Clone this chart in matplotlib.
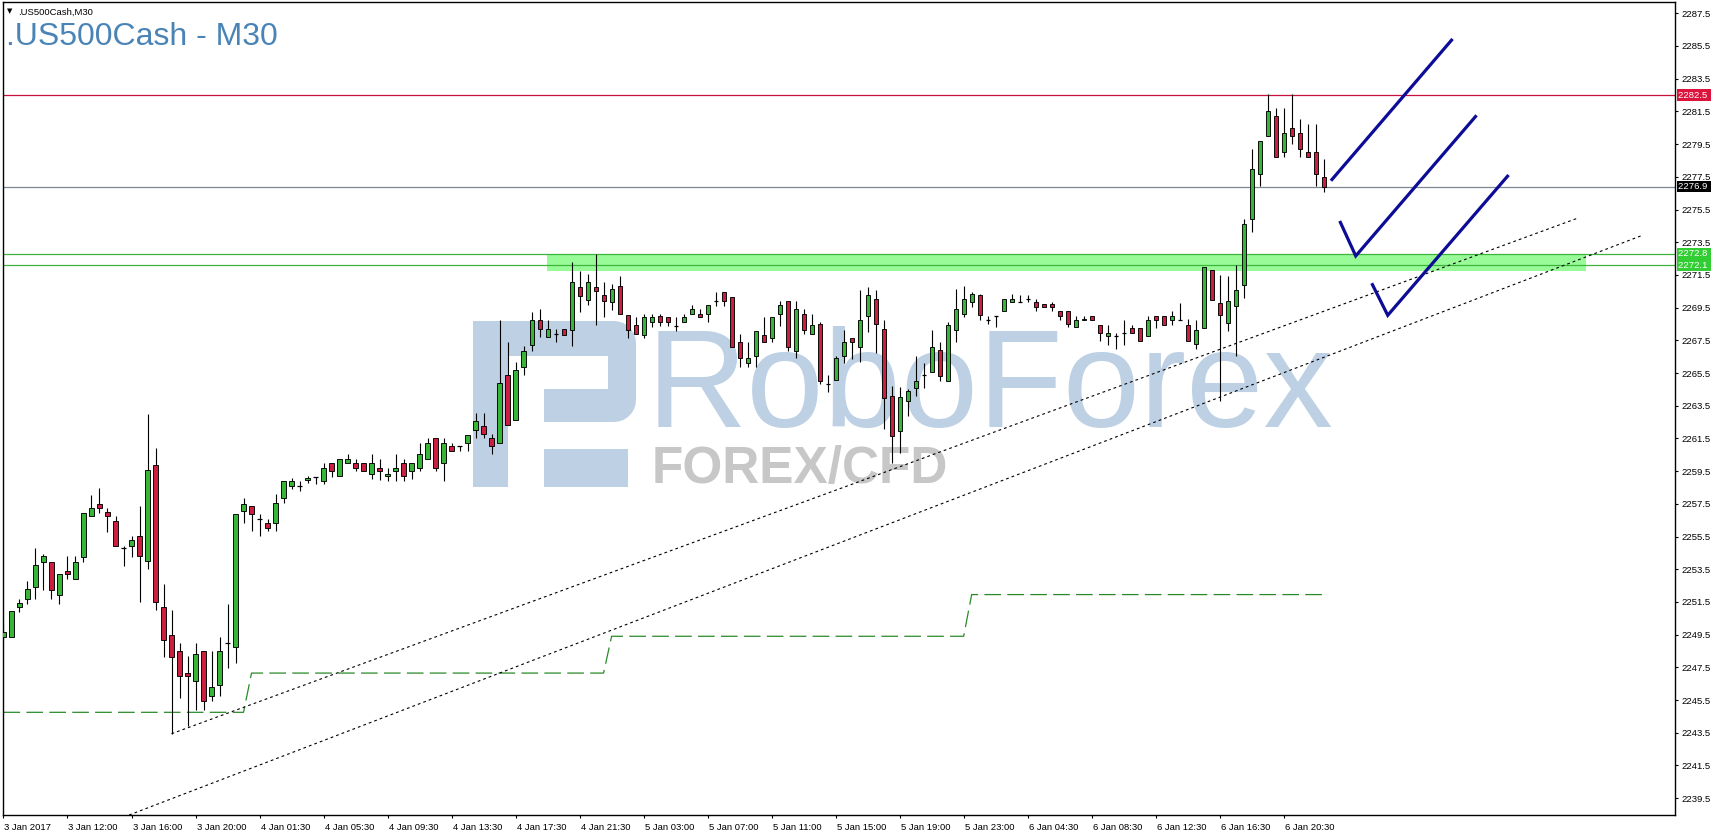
import numpy as np
import matplotlib
matplotlib.use("Agg")
import matplotlib.pyplot as plt
from matplotlib import font_manager
from matplotlib.patches import Polygon
from matplotlib.transforms import blended_transform_factory, ScaledTranslation

# ---- data (M30 bars, index 0 = first bar on screen) ----
opens = [2249.36, 2249.36, 2251.19, 2251.66, 2252.41, 2253.94, 2253.96, 2251.94, 2253.41, 2252.92,
         2254.25, 2256.78, 2257.51, 2256.98, 2256.47, 2254.78, 2254.94, 2255.51, 2254.02, 2259.90,
         2251.21, 2249.50, 2248.48, 2247.17, 2246.68, 2248.48, 2245.76, 2246.44, 2249.01, 2248.74,
         2257.08, 2257.39, 2256.59, 2256.35, 2256.35, 2257.88, 2258.61, 2258.61, 2258.95, 2259.16,
         2258.90, 2259.98, 2259.18, 2259.98, 2259.98, 2259.98, 2259.30, 2259.67, 2259.18, 2259.49,
         2259.98, 2259.49, 2259.67, 2260.22, 2261.53, 2259.98, 2261.02, 2261.02, 2261.22, 2262.02,
         2262.24, 2261.53, 2261.22, 2265.36, 2262.61, 2265.87, 2267.20, 2268.75, 2267.68, 2267.89,
         2268.19, 2268.15, 2270.73, 2269.98, 2270.73, 2270.25, 2269.82, 2270.80, 2269.04, 2268.41,
         2267.82, 2268.59, 2269.00, 2268.90, 2268.39, 2268.59, 2269.08, 2269.08, 2269.08, 2269.92,
         2270.43, 2270.12, 2267.37, 2266.09, 2266.55, 2267.84, 2267.62, 2269.08, 2269.92, 2266.86,
         2269.08, 2267.88, 2268.47, 2264.85, 2265.07, 2266.56, 2267.62, 2267.07, 2269.00, 2270.00,
         2268.17, 2264.09, 2261.93, 2263.80, 2264.56, 2265.37, 2265.54, 2266.90, 2265.03, 2268.11,
         2269.09, 2269.82, 2270.27, 2268.76, 2269.00, 2269.31, 2269.82, 2269.82, 2270.00, 2269.82,
         2269.70, 2269.70, 2269.31, 2269.31, 2268.29, 2268.76, 2269.00, 2268.42, 2267.75, 2267.75,
         2267.95, 2268.26, 2268.26, 2267.75, 2268.97, 2268.97, 2268.77, 2268.77, 2268.45, 2267.25,
         2268.25, 2271.80, 2269.78, 2268.55, 2269.57, 2270.86, 2274.92, 2277.67, 2279.99, 2281.21,
         2279.01, 2280.48, 2280.18, 2279.01, 2279.01, 2277.48]
highs = [2250.21, 2250.92, 2251.70, 2252.76, 2254.78, 2254.45, 2253.96, 2253.23, 2254.29, 2254.29,
         2256.96, 2258.02, 2258.49, 2257.26, 2256.78, 2254.94, 2255.51, 2257.39, 2262.97, 2260.93,
         2252.57, 2251.02, 2249.01, 2248.17, 2249.01, 2248.48, 2248.48, 2249.33, 2251.35, 2256.90,
         2257.84, 2257.39, 2256.90, 2256.59, 2258.12, 2258.92, 2259.10, 2258.90, 2259.20, 2259.16,
         2259.98, 2259.98, 2260.22, 2260.55, 2260.22, 2259.98, 2260.55, 2260.22, 2259.67, 2260.55,
         2260.22, 2259.98, 2261.22, 2261.53, 2261.53, 2261.53, 2261.22, 2261.02, 2261.73, 2263.06,
         2263.06, 2261.77, 2268.75, 2267.38, 2266.16, 2267.18, 2269.23, 2269.42, 2268.75, 2268.19,
         2268.19, 2272.26, 2271.71, 2271.55, 2272.77, 2271.04, 2270.94, 2271.41, 2269.04, 2268.90,
         2269.10, 2269.10, 2269.10, 2268.90, 2268.90, 2269.10, 2269.65, 2269.39, 2269.63, 2270.43,
         2270.43, 2270.12, 2267.88, 2267.37, 2268.10, 2268.90, 2268.90, 2269.92, 2269.92, 2269.92,
         2269.39, 2269.08, 2268.59, 2265.35, 2266.56, 2268.13, 2267.62, 2270.57, 2270.74, 2270.57,
         2268.72, 2264.68, 2264.66, 2264.52, 2266.56, 2266.09, 2268.13, 2267.41, 2268.60, 2270.63,
         2270.80, 2270.43, 2270.33, 2269.00, 2269.00, 2270.00, 2270.33, 2270.27, 2270.27, 2270.00,
         2269.70, 2269.82, 2269.31, 2269.31, 2269.00, 2269.00, 2269.00, 2268.42, 2268.42, 2267.95,
         2268.77, 2268.42, 2268.26, 2268.97, 2268.97, 2268.97, 2269.32, 2269.79, 2268.80, 2268.76,
         2271.98, 2271.80, 2271.51, 2271.41, 2272.12, 2274.94, 2279.22, 2279.71, 2282.56, 2281.73,
         2281.73, 2282.56, 2281.03, 2280.75, 2280.75, 2278.59]
lows = [2249.19, 2249.36, 2250.88, 2251.39, 2251.66, 2252.21, 2251.66, 2251.39, 2252.88, 2252.92,
        2253.94, 2256.78, 2256.94, 2255.78, 2254.94, 2253.70, 2254.25, 2251.49, 2253.51, 2251.02,
        2248.13, 2243.44, 2245.62, 2243.93, 2244.91, 2244.91, 2245.46, 2245.76, 2247.46, 2247.76,
        2256.33, 2255.84, 2255.53, 2255.84, 2255.84, 2257.57, 2258.43, 2258.30, 2258.80, 2258.70,
        2258.70, 2259.16, 2259.18, 2259.98, 2259.49, 2259.49, 2259.02, 2258.95, 2258.90, 2258.90,
        2258.90, 2259.02, 2259.49, 2260.22, 2259.49, 2258.90, 2260.71, 2260.71, 2260.71, 2261.53,
        2261.53, 2260.55, 2261.22, 2262.32, 2262.61, 2265.38, 2266.87, 2267.68, 2267.68, 2267.38,
        2267.84, 2267.17, 2269.21, 2269.67, 2268.43, 2268.90, 2269.37, 2269.08, 2267.62, 2267.88,
        2267.62, 2268.29, 2268.39, 2268.39, 2268.08, 2268.59, 2269.08, 2268.90, 2268.59, 2269.61,
        2269.61, 2267.07, 2265.84, 2265.84, 2265.84, 2267.37, 2267.37, 2268.39, 2266.86, 2266.39,
        2267.88, 2267.88, 2264.82, 2264.36, 2265.07, 2266.09, 2266.35, 2266.15, 2267.98, 2266.72,
        2262.07, 2260.00, 2260.60, 2262.89, 2264.11, 2264.56, 2265.54, 2265.03, 2265.03, 2267.37,
        2268.90, 2269.51, 2268.76, 2268.49, 2268.29, 2269.31, 2269.82, 2269.82, 2269.82, 2269.31,
        2269.51, 2269.31, 2268.76, 2268.29, 2268.29, 2268.76, 2268.76, 2267.44, 2267.24, 2266.97,
        2267.24, 2267.95, 2267.44, 2267.75, 2268.26, 2268.42, 2268.42, 2268.77, 2267.43, 2266.96,
        2268.25, 2269.98, 2263.76, 2268.04, 2266.52, 2270.08, 2274.12, 2276.91, 2279.99, 2278.71,
        2278.71, 2279.52, 2278.71, 2278.71, 2276.91, 2276.55]
closes = [2249.66, 2250.92, 2251.41, 2252.31, 2253.74, 2254.29, 2252.25, 2253.23, 2253.23, 2253.96,
          2256.96, 2257.26, 2257.26, 2256.78, 2254.94, 2254.78, 2255.27, 2254.33, 2259.59, 2251.49,
          2249.19, 2248.13, 2246.99, 2246.99, 2248.29, 2245.46, 2246.27, 2248.48, 2249.01, 2256.90,
          2257.51, 2256.90, 2256.59, 2256.04, 2257.57, 2258.92, 2258.92, 2258.61, 2259.10, 2259.16,
          2259.67, 2259.49, 2260.22, 2260.22, 2259.67, 2259.49, 2259.98, 2259.49, 2259.30, 2259.67,
          2259.18, 2259.98, 2260.55, 2261.22, 2259.67, 2261.22, 2260.71, 2261.02, 2261.73, 2262.55,
          2261.77, 2261.06, 2264.87, 2262.32, 2265.67, 2266.87, 2268.75, 2268.19, 2268.19, 2267.89,
          2267.84, 2271.04, 2270.23, 2271.04, 2270.53, 2269.92, 2270.61, 2269.08, 2268.13, 2267.88,
          2268.90, 2268.90, 2268.59, 2268.59, 2268.39, 2268.90, 2269.39, 2268.90, 2269.63, 2269.92,
          2269.92, 2267.07, 2266.39, 2266.39, 2268.10, 2267.37, 2268.90, 2269.63, 2267.07, 2269.39,
          2268.13, 2268.41, 2265.03, 2264.85, 2266.39, 2267.37, 2267.37, 2268.72, 2270.27, 2268.47,
          2263.95, 2261.62, 2264.05, 2264.37, 2265.03, 2265.37, 2267.07, 2265.33, 2268.43, 2269.39,
          2270.02, 2270.33, 2269.05, 2268.76, 2269.00, 2270.00, 2270.00, 2269.82, 2270.00, 2269.51,
          2269.51, 2269.51, 2269.00, 2268.47, 2268.76, 2268.80, 2268.76, 2267.95, 2267.95, 2267.75,
          2267.95, 2267.95, 2267.44, 2268.77, 2268.77, 2268.42, 2268.97, 2268.77, 2267.43, 2268.15,
          2271.98, 2269.98, 2269.02, 2269.92, 2270.59, 2274.63, 2277.99, 2279.71, 2281.52, 2278.71,
          2280.18, 2280.01, 2279.22, 2278.71, 2277.67, 2276.87]

time_labels = ["3 Jan 2017", "3 Jan 12:00", "3 Jan 16:00", "3 Jan 20:00", "4 Jan 01:30",
               "4 Jan 05:30", "4 Jan 09:30", "4 Jan 13:30", "4 Jan 17:30", "4 Jan 21:30",
               "5 Jan 03:00", "5 Jan 07:00", "5 Jan 11:00", "5 Jan 15:00", "5 Jan 19:00",
               "5 Jan 23:00", "6 Jan 04:30", "6 Jan 08:30", "6 Jan 12:30", "6 Jan 16:30",
               "6 Jan 20:30"]
label_every = 8

# horizontal levels
resistance = 2282.5
bid = 2276.9
zone_lines = [2272.8, 2272.1]
zone_box = (67.9, 197.8, 2271.75, 2272.8)   # bar from, bar to, price low, price high

# green dashed step indicator: first bar of each level and its value
step_starts = [0, 31, 76, 121]
step_levels = [2244.75, 2247.15, 2249.40, 2251.95]

# dotted trend lines (bar, price)
trend_a = ([21.0, 196.9], [2243.44, 2275.00])
trend_b = ([15.7, 204.6], [2238.47, 2273.88])

# hand drawn blue arrows (bar, price)
blue_marks = [
    ([165.9, 181.1], [2277.26, 2285.93]),
    ([167.0, 169.0, 184.1], [2274.80, 2272.66, 2281.26]),
    ([171.0, 173.0, 188.1], [2270.99, 2269.03, 2277.61]),
]

# ---------------------------------------------------------------------------
W, H = 1715, 836
AX_L, AX_R, AX_T, AX_B = 3, 1675, 2, 815

fig = plt.figure(figsize=(W / 100, H / 100), dpi=100)
fig.patch.set_facecolor("white")
ax = fig.add_axes([AX_L / W, 1 - AX_B / H, (AX_R - AX_L) / W, (AX_B - AX_T) / H])
ax.set_xlim(-0.06, 208.9)
ax.set_ylim(2238.47, 2288.19)

font = "Liberation Sans"
plt.rcParams["lines.scale_dashes"] = False


def px(x, y):
    return ((x - AX_L) / (AX_R - AX_L), (AX_B - y) / (AX_B - AX_T))


# watermark
wm_blue = "#BDD0E4"
logo_parts = [
    [(473, 321), (508, 321), (508, 487), (473, 487)],
    [(508, 321), (612, 321), (612, 356), (508, 356)],
    [(544, 389), (612, 389), (612, 422), (544, 422)],
    [(544, 449), (628, 449), (628, 487), (544, 487)],
]
arc_r = 22
right_side = [(608, 321)]
for a in np.linspace(90, 0, 8):
    right_side.append((636 - arc_r + arc_r * np.cos(np.radians(a)), 321 + arc_r - arc_r * np.sin(np.radians(a))))
for a in np.linspace(0, -90, 8):
    right_side.append((636 - arc_r + arc_r * np.cos(np.radians(a)), 422 - arc_r - arc_r * np.sin(np.radians(a))))
right_side.append((608, 422))
logo_parts.append(right_side)
for part in logo_parts:
    ax.add_patch(Polygon([px(*p) for p in part], closed=True, transform=ax.transAxes,
                         fc=wm_blue, ec="none", zorder=0.5))

ax.text(*px(647, 427), "RoboForex", transform=ax.transAxes, family=font, fontsize=100,
        color=wm_blue, va="baseline", ha="left", zorder=0.5)
names = {f.name for f in font_manager.fontManager.ttflist}
if "Liberation Sans Narrow" in names:
    sub = dict(family="Liberation Sans Narrow", fontsize=44)
else:
    sub = dict(family=font, fontsize=37)
ax.text(*px(652, 483), "FOREX/CFD", transform=ax.transAxes, color="#C7C7C7",
        weight="bold", va="baseline", ha="left", zorder=0.5, **sub)

# zone and levels
z0, z1, zlo, zhi = zone_box
ax.fill_between([z0, z1], zlo, zhi, color="#98FB98", lw=0, zorder=1)
for lv in zone_lines:
    ax.axhline(lv, color="#3DB53D", lw=0.9, zorder=1.2)
ax.axhline(resistance, color="#C8103C", lw=0.9, zorder=1.2)
ax.axhline(bid, color="#7C8790", lw=0.9, zorder=1.2)

# step line
n = len(opens)
idx = np.arange(n)
step_vals = np.zeros(n)
for s, v in zip(step_starts, step_levels):
    step_vals[s:] = v
ax.plot(idx, step_vals, color="#2A8A2A", lw=0.9, dashes=(12, 4.5), zorder=1.3)

# trend lines
for xs, ys in (trend_a, trend_b):
    ax.plot(xs, ys, color="black", lw=0.8, dashes=(2, 2.2), zorder=1.4)

# candles
o = np.array(opens); h = np.array(highs); l = np.array(lows); c = np.array(closes)
ax.vlines(idx, l, h, color="black", lw=0.8, zorder=2)
up = c > o
dn = c < o
eq = c == o
bw = 0.52
ax.bar(idx[up], (c - o)[up], bottom=o[up], width=bw, color="#36B536", edgecolor="black",
       linewidth=0.65, zorder=3)
ax.bar(idx[dn], (o - c)[dn], bottom=c[dn], width=bw, color="#CC1E3E", edgecolor="black",
       linewidth=0.65, zorder=3)
ax.hlines(o[eq], idx[eq] - bw / 2, idx[eq] + bw / 2, color="black", lw=0.9, zorder=3)

# blue marks
for xs, ys in blue_marks:
    ax.plot(xs, ys, color="#0C0C96", lw=2.3, solid_capstyle="butt", solid_joinstyle="miter", zorder=4)

# axes styling
for sp in ax.spines.values():
    sp.set_color("black")
    sp.set_linewidth(1.0)
ax.yaxis.tick_right()
yt = np.arange(2239.5, 2288.0, 2.0)
ax.set_yticks(yt)
ax.set_yticklabels([f"{v:.1f}" for v in yt])
ax.set_xticks(np.arange(len(time_labels)) * label_every)
ax.set_xticklabels(time_labels)
ax.tick_params(axis="y", direction="out", length=2.5, width=0.8, pad=2.5, labelsize=6.8)
ax.tick_params(axis="x", direction="out", length=2.5, width=0.8, pad=3, labelsize=6.8)
for lb in ax.get_xticklabels():
    lb.set_horizontalalignment("left")
    lb.set_family(font)
    lb.set_transform(lb.get_transform() + ScaledTranslation(1 / 100, 0, fig.dpi_scale_trans))
for lb in ax.get_yticklabels():
    lb.set_family(font)

# price tags on the right axis
tr = blended_transform_factory(ax.transAxes, ax.transData)
tags = [(resistance, "#DC143C"), (bid, "black")] + [(v, "#32CD32") for v in zone_lines]
for val, col in tags:
    ax.text(1.0 + 3 / (AX_R - AX_L), val, f"{val:.1f} ", transform=tr, family=font, fontsize=6.8,
            color="white", ha="left", va="center", clip_on=False, zorder=6,
            bbox=dict(boxstyle="square,pad=0.12", fc=col, ec="none"))

# titles
fig.text(7 / W, 1 - 11 / H, "\u25BC", fontsize=5, color="black", va="center", ha="left",
         family="DejaVu Sans")
fig.text(18 / W, 1 - 15 / H, ".US500Cash,M30", fontsize=6.8, family=font, va="baseline")
fig.text(6 / W, 1 - 45 / H, ".US500Cash - M30", fontsize=23, family=font, color="#4A84B6",
         va="baseline")

fig.savefig("out.png", dpi=100, facecolor="white")
